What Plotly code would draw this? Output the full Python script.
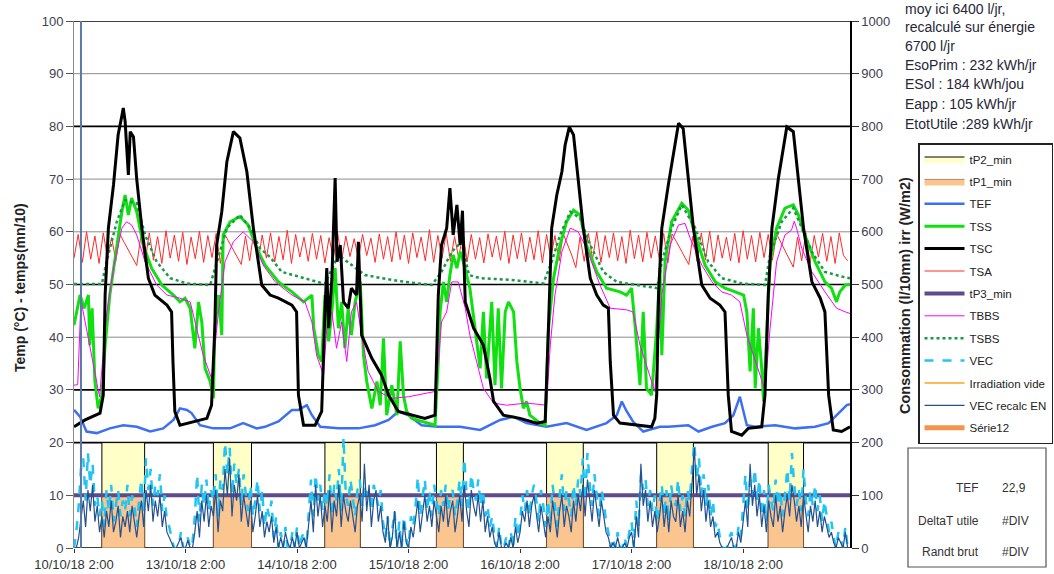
import plotly.graph_objects as go

# ---------------- data (hours since 10/10/18 2:00) ----------------
TICK_HOURS = [0, 24, 48, 72, 96, 120, 144]
TICK_LABELS = ["10/10/18 2:00", "13/10/18 2:00", "14/10/18 2:00", "15/10/18 2:00",
               "16/10/18 2:00", "17/10/18 2:00", "18/10/18 2:00"]

TSC_H = [0, 2.4, 5.6, 6.3, 6.7, 7.4, 8.5, 9.5, 10.3, 10.6, 11.0, 11.4, 11.7, 12.1, 12.8, 13.5, 14.6, 16, 17.4, 20, 21,
         21.3, 21.7, 22.8, 25.7, 28.6, 29.6, 30.3, 30.7, 31.8, 32.9, 34.3, 35.7, 37.2, 38.6, 40.4, 42.2, 44, 46.9, 47.9,
         48.3, 49.4, 51.9, 53.3, 54.0, 54.4, 54.8, 55.5, 56.2, 56.6, 57.3, 58.0, 59.0, 59.7, 60.8, 61.2, 61.9, 64.1, 66.2,
         67.7, 69.8, 72.7, 75.5, 77.7, 78.4, 79.1, 80.2, 80.9, 81.6, 82.4, 83.1, 83.6, 84.2, 86, 88.1, 89.5, 90.3, 92.4,
         96, 99.6, 101.4, 102.1, 102.8, 103.9, 105, 105.7, 106.6, 107.5, 108.5, 109.6, 111.1, 112.5, 113.9, 115, 115.4,
         116.1, 117.5, 121.8, 124.3, 125.0, 125.4, 125.8, 126.5, 127.9, 129, 130.1, 131.1, 132.2, 133.3, 135.1, 136.9,
         139, 140.1, 140.8, 141.5, 143.7, 145.1, 148, 148.7, 149.4, 150.2, 151.6, 152.7, 153.4, 154.8, 155.9, 157, 158.8,
         160.6, 161.6, 162.4, 163.4, 165.2, 167]
TSC_V = [23.0, 24.3, 25.6, 29, 48, 60.7, 68.9, 78.4, 82, 83.5, 81, 76, 70.8, 79, 78, 70, 60.7, 51.2, 48, 46.1, 44.8,
         35.4, 25.9, 23.3, 24, 24.6, 27.1, 41.7, 57.5, 63.8, 73.3, 79, 77.8, 71.4, 60.7, 49.9, 48, 47.4, 46.1, 44.8,
         29, 23.3, 23.3, 25.9, 44.8, 53.1, 41.7, 51.2, 70.2, 54.3, 57.5, 46.7, 45.5, 49.3, 48, 58.1, 40.4, 36, 32.8,
         29, 25.9, 25.2, 24.6, 25.2, 48, 57.5, 60.7, 68.3, 59.4, 65.1, 57.5, 64, 46.7, 41.7, 38.5, 32.2, 27.8, 25.2,
         24.6, 23.7, 24, 41.7, 60.7, 67, 71.4, 76.5, 79.9, 78.4, 70.2, 60.7, 51.2, 48, 46.1, 45.5, 35.4,
         25.2, 23.7, 23.3, 23.0, 24.6, 29, 48, 60.7, 68.9, 75.2, 80.6, 79.6, 70.2, 60.7, 49.9, 47.4,
         46.1, 44.8, 29, 22.1, 21.4, 22.7, 23.0, 29, 48, 60.7, 70.2, 76.5, 79.9, 79, 70.2, 60.7, 50.5,
         47.4, 44.8, 29, 22.4, 22.1, 23]

TSS_H = [0, 1.3, 2.2, 3.1, 3.4, 3.9, 4.5, 5.2, 6, 6.7, 7.7, 9.2, 10.3, 11, 11.7, 12.4, 13.5, 14.9, 16.7, 18.9, 21.4,
         22.8, 23.9, 25, 26, 26.8, 27.5, 28.2, 29.3, 30, 30.3, 31.1, 31.8, 32.1, 33.6, 35.7, 37.5, 39.3, 41.1, 44, 46.9,
         49.4, 51.2, 51.6, 52.6, 53.3, 54, 54.8, 55.5, 56.2, 56.9, 57.6, 58.3, 59, 59.7, 60.5, 61.6, 62.3, 63, 64.1,
         65.2, 65.9, 66.6, 67.3, 68.4, 69.5, 70.2, 70.9, 71.6, 72.7, 74.8, 77.7, 78.4, 78.8, 79.5, 80.2, 80.9, 81.6,
         82.4, 83.1, 83.8, 85.2, 86.3, 87.4, 88.1, 88.8, 89.9, 90.6, 91.3, 92.0, 92.8, 93.5, 94.6, 95.3, 96, 96.7,
         97.4, 98.1, 100.3, 101.4, 102.1, 103.2, 104.6, 106, 107.5, 108.9, 110.3, 112.5, 114.6, 117.5, 118.9, 120.0,
         120.8, 121.8, 122.5, 123.2, 124.3, 125.4, 126.1, 126.5, 127.2, 128.6, 130.8, 132.2, 133.7, 135.8, 138, 140.1,
         142.3, 144.1, 144.8, 145.5, 146.2, 146.6, 147.3, 148.0, 148.4, 149.1, 149.8, 151.2, 153, 154.8, 155.9, 157.3,
         159.5, 161.6, 163.0, 164.1, 164.8, 166, 167]
TSS_V = [42.3, 48, 45.5, 48, 38.5, 45.5, 31.6, 26.5, 29, 38.5, 48, 57.5, 63.8, 67, 63.2, 66.4, 63.8, 57.5, 53.1, 49.9, 48,
         46.7, 47.4, 45.5, 37.9, 46.7, 42.9, 34.1, 31.6, 28.4, 41.7, 48, 40.4, 59.4, 61.9, 62.9, 61.3, 56.9, 53.7, 50.5, 48.6,
         46.7, 48, 41.7, 36.6, 35.4, 48, 39.2, 44.8, 53.1, 41.7, 46.7, 37.9, 45.5, 40.4, 46.7, 50.5, 36.6, 31.6, 26.5,
         31.6, 27.1, 39.8, 25.2, 30.9, 25.2, 39.2, 29, 25.9, 24.6, 24, 23.3, 35.4, 44.8, 50.5, 46.7, 51.8, 55.6,
         53.1, 56.2, 54.3, 49.3, 41.7, 34.1, 44.8, 32.2, 46.7, 30.9, 45.5, 30.3, 44.8, 46.7, 44.8, 35.4, 30.3, 26.5,
         27.8, 25.2, 23.7, 23.3, 41.7, 51.2, 57.5, 61.9, 64.1, 63.2, 57.5, 52.4, 49.3, 48.6, 48, 49.3,
         41.7, 30.9, 44.8, 30.3, 29, 41.7, 53.1, 36.6, 54.3, 61.9, 65.4, 64.1, 59.4, 53.7, 50.5, 49.3,
         48.6, 48, 44.8, 33.5, 45.5, 30.3, 41.7, 34.1, 27.8, 41.7, 54.3, 60.7, 64.5, 65.1, 63.2, 59.4,
         54.3, 50.5, 49.3, 46.7, 48.6, 49.9, 50]

TSA_STEP = 0.9
TSA_V = [55.0, 59.5, 54.2, 60.0, 54.8, 59.2, 54.0, 59.8, 55.2, 58.9, 54.5, 59.5, 58.0, 56.5, 55.0, 53.6, 59.3, 54.3, 59.8, 54.6,
         59.1, 54.0, 60.2, 55.0, 59.4, 54.4, 59.9, 53.8, 59.0, 54.9, 60.1, 54.2, 59.3, 55.1, 59.7, 54.0, 59.6, 58.2, 56.8, 55.4,
         53.8, 59.2, 54.5, 60.0, 54.1, 59.4, 55.0, 59.8, 54.3, 59.1, 54.7, 60.3, 54.0, 59.5, 55.2, 59.0, 54.4, 59.7, 54.8, 59.3,
         54.1, 58.9, 55.0, 60.0, 54.6, 59.2, 55.3, 58.7, 54.9, 59.5, 55.5, 58.8, 54.2, 59.6, 54.8, 59.1, 54.3, 60.0, 54.7, 59.4,
         54.0, 59.8, 55.1, 59.0, 54.5, 60.4, 54.2, 59.3, 55.0, 59.7, 54.4, 59.1, 54.9, 60.0, 54.3, 59.5, 54.8, 58.9, 54.1, 59.6,
         55.2, 59.2, 54.6, 60.1, 54.0, 59.4, 54.9, 59.8, 54.3, 59.0, 54.7, 60.2, 54.1, 59.5, 55.0, 59.3, 54.5, 59.6, 57.6, 55.6,
         53.2, 59.0, 54.4, 59.7, 54.8, 60.0, 54.2, 59.3, 55.1, 59.8, 54.5, 59.1, 54.0, 60.3, 54.9, 59.4, 54.3, 59.9, 55.0, 59.2,
         54.6, 59.7, 54.1, 59.6, 58.2, 56.8, 55.3, 53.8, 59.2, 54.4, 59.8, 54.7, 60.1, 54.2, 59.4, 55.0, 59.0, 54.5, 59.7, 54.1,
         60.2, 54.8, 59.3, 54.3, 59.9, 55.1, 59.5, 54.6, 59.6, 58.0, 56.4, 54.8, 53.3, 59.0, 54.5, 59.8, 54.0, 59.3, 55.2, 59.7,
         54.4, 59.1, 54.0, 59.8, 55.5, 54.5]

TBBS_H = [0, 0.8, 1.5, 3.5, 5.5, 7, 8.5, 10.3, 11.3, 12.4, 13.5, 15.3, 17.8, 20, 22.8, 25, 26.4, 27.8, 29.6, 30.3, 31.1,
          32.5, 34.3, 36.4, 38.6, 40.7, 43.3, 46.9, 49.7, 51.2, 52.2, 53.7, 54.4, 55.5, 56.5, 57.6, 58.7, 59.7, 60.8,
          61.9, 63.3, 65.5, 68.4, 72, 75.5, 77.7, 78.4, 79.1, 80.2, 81.3, 82.7, 84.2, 85.2, 86.7, 88.1, 90.3, 93.1, 97.4,
          101.7, 102.5, 103.5, 105, 106.8, 108.5, 110.3, 113.2, 115.4, 118.9, 120.3, 121.8, 123.6, 125, 126.5, 128.3,
          130.1, 131.5, 132.6, 135.1, 137.3, 139.4, 141.5, 143.3, 144.8, 146.6, 148.7, 149.8, 151.2, 153, 154.4, 155.0,
          155.5, 156.6, 158.8, 161.6, 164.1, 166, 167]
TBBS_V = [30.9, 31, 47, 38, 28.7, 44.2, 53.1, 60.7, 61.9, 61.3, 59.4, 54.3, 49.9, 48, 47.4, 46.7, 41.7, 36.6, 32.2, 37.9, 44.8,
          54.3, 58.1, 60, 58.1, 53.7, 50.5, 48, 46.7, 42.9, 36.6, 32.8, 41.7, 44.8, 37.9, 42.9, 35.4, 44.8, 46.7,
          40.4, 33.5, 29.7, 28.4, 28.7, 29.4, 29.7, 35.4, 42.9, 44.8, 50.5, 50.5, 45.5, 40.4, 35.4, 30.3, 27.5, 27.1, 27.5,
          27.1, 38.5, 48, 56.2, 60.7, 60, 56.9, 49.9, 45.5, 45.2, 44.8, 38.5, 33.5, 29.7, 48, 57.5,
          61.3, 61.6, 58.8, 53.7, 50.5, 48.6, 48, 46.7, 40.4, 35.4, 30, 41.7, 54.3, 59.4, 60.3, 62,
          60.7, 56.9, 52.4, 48.6, 45.5, 44.8, 44.5]

TSBS_H = [0, 6, 7, 9.2, 11, 13.5, 15.3, 17.8, 20.7, 24.3, 29.3, 30.7, 32.9, 35.7, 37.9, 40, 42.2, 44.7, 48.3, 51.9, 54,
          56.9, 60.5, 62.6, 66.2, 71.2, 77, 79.1, 81.3, 83.4, 85, 87.4, 93.8, 101, 102.8, 104.6, 106.8, 108.9, 111.1,
          113.9, 116.8, 121, 125.5, 126.5, 128.6, 130.8, 133.7, 136.5, 139.4, 143.7, 148.7, 149.8, 152.3, 154.8, 156.6,
          158.8, 161.6, 165.2, 167]
TSBS_V = [50.1, 50.1, 54.3, 61.9, 66, 65.4, 59.4, 54.3, 51.2, 50.2, 49.9, 54.3, 60.7, 63.2, 60.7, 56.9, 55.2, 52.4, 51.5, 50.5, 50.1,
          55.6, 53.1, 51.8, 51.2, 50.5, 49.9, 52.4, 56.2, 58.1, 51.8, 51.2, 50.9, 50.2, 54.3, 59.4, 63.8, 62.6, 57.5,
          52.4, 50.5, 49.9, 49.3, 54.3, 60.7, 65.1, 60.7, 54.3, 51.2, 50.2, 49.9, 55.6, 61.9, 64.5, 60.7,
          56.2, 52.4, 51.5, 51.2]

TEF_H = [0, 1.3, 2.7, 4.9, 7.7, 10.6, 13.5, 16.4, 19.2, 21.4, 22.8, 24.3, 25.3, 27.1, 30, 33.6, 36.4, 39.3, 41.1, 44, 46.9,
         48.3, 50.1, 51.2, 53, 56.9, 61.2, 64.8, 67.7, 69.8, 72, 74.8, 78.4, 83.1, 87.4, 91.7, 94.6, 97.4, 101.7, 106,
         110.3, 114.6, 116.8, 117.9, 118.9, 120.3, 122.5, 126.1, 127.9, 132.2, 134.4, 137.3, 140.1, 141.9, 143.3, 144.1,
         144.8, 146.6, 150.9, 155.2, 159.5, 162.4, 164.1, 166.3, 167]
TEF_V = [26.2, 24.9, 22.1, 21.8, 22.7, 23.3, 23.0, 22.1, 22.7, 24.3, 26.5, 26.2, 25.6, 23.3, 22.7, 22.7, 23.7, 22.7, 23.0, 24, 26.2,
         26.2, 27.1, 25.2, 23.0, 22.7, 22.7, 23.3, 24.3, 25.9, 25.2, 23.3, 23.0, 23.0, 22.4, 24.3, 24.9, 23.7, 23, 23.7,
         22.4, 23.7, 25.2, 27.8, 26, 24, 22.1, 23, 23.0, 23.3, 22.1, 23.0, 23.7, 25.2, 28.7, 26,
         23.3, 23, 23.3, 22.7, 23, 23.7, 25.2, 27.1, 27.3]

TP3_LEVEL = 10          # tP3_min (mn/10)
TP2_LEVEL = 20          # tP2_min (mn/10)
TP1_LEVEL = 10          # tP1_min (mn/10)
PUMP_START = [6, 30, 54, 78, 101.7, 125.4, 149.4]
PUMP_END = [15.2, 38.2, 61.6, 83.8, 109.6, 133.3, 157]

# consumption, l/10mn, every half hour from 10/10/18 2:00 (right axis)
VEC_STEP = 0.5
VEC_V = [0, 30, 80, 150, 170, 90, 180, 120, 160, 80, 100, 60,
         90, 40, 110, 70, 120, 50, 80, 110, 60, 90, 70, 120,
         60, 100, 80, 40, 90, 130, 70, 170, 110, 150, 80, 120,
         100, 140, 70, 100, 50, 40, 20, 0, 0, 0, 30, 0,
         0, 20, 0, 10, 60, 140, 50, 120, 80, 130, 70, 110,
         90, 140, 60, 130, 110, 200, 140, 190, 100, 160, 120, 150,
         80, 140, 100, 70, 120, 60, 90, 130, 70, 110, 40, 80,
         60, 90, 20, 60, 0, 30, 0, 40, 0, 0, 30, 0,
         40, 0, 20, 30, 0, 60, 130, 60, 140, 90, 120, 70,
         110, 80, 140, 60, 120, 90, 150, 70, 210, 100, 80, 130,
         90, 60, 110, 130, 80, 120, 100, 110, 70, 120, 100, 80,
         110, 50, 20, 60, 0, 40, 70, 0, 50, 0, 60, 20,
         0, 60, 40, 80, 135, 60, 100, 130, 70, 110, 60, 120,
         90, 60, 110, 80, 120, 70, 100, 110, 60, 90, 130, 80,
         170, 100, 70, 140, 110, 90, 130, 80, 110, 60, 80, 40,
         60, 20, 0, 40, 0, 0, 20, 0, 30, 0, 60, 20,
         50, 100, 70, 110, 60, 100, 120, 90, 50, 110, 80, 40,
         90, 50, 120, 80, 40, 100, 140, 70, 110, 90, 60, 120,
         80, 130, 100, 170, 90, 180, 120, 80, 140, 100, 60, 110,
         90, 50, 30, 0, 20, 0, 30, 0, 0, 20, 0, 30,
         50, 0, 90, 40, 140, 110, 130, 80, 110, 70, 100, 50,
         90, 120, 60, 110, 50, 120, 90, 80, 130, 70, 100, 60,
         110, 90, 150, 200, 130, 170, 100, 140, 80, 120, 60, 90,
         40, 50, 20, 0, 0, 0, 20, 30, 0, 0, 40, 20,
         80, 140, 70, 130, 100, 150, 90, 130, 60, 110, 50, 120,
         90, 70, 130, 80, 110, 60, 100, 150, 90, 180, 120, 80,
         110, 70, 150, 90, 60, 110, 80, 120, 70, 100, 50, 90,
         60, 30, 50, 20, 0, 30, 20, 0, 40, 0]
VECR_V = [0, 0, 20, 60, 90, 40, 110, 70, 120, 50, 80, 30,
          60, 20, 70, 40, 90, 30, 50, 80, 20, 60, 40, 70,
          30, 80, 50, 20, 60, 90, 40, 110, 70, 120, 50, 90,
          60, 100, 40, 70, 30, 20, 10, 0, 0, 10, 20, 0,
          0, 15, 0, 0, 30, 70, 20, 90, 50, 100, 40, 80,
          60, 110, 30, 90, 70, 150, 100, 170, 60, 120, 90, 140,
          50, 100, 70, 40, 90, 30, 60, 100, 40, 70, 20, 50,
          30, 60, 10, 40, 0, 20, 0, 30, 10, 0, 20, 0,
          30, 0, 10, 20, 0, 40, 90, 30, 120, 60, 100, 40,
          80, 50, 110, 30, 90, 60, 120, 40, 100, 70, 50, 90,
          60, 30, 80, 100, 50, 160, 70, 120, 40, 90, 110, 50,
          80, 30, 10, 60, 0, 20, 70, 0, 30, 0, 50, 10,
          0, 40, 20, 60, 90, 30, 70, 100, 50, 80, 40, 90,
          60, 30, 80, 50, 100, 40, 70, 90, 30, 60, 100, 50,
          120, 70, 40, 110, 80, 60, 100, 50, 90, 30, 60, 20,
          40, 10, 0, 30, 0, 0, 10, 0, 20, 0, 40, 10,
          30, 70, 50, 90, 40, 80, 100, 60, 30, 80, 50, 20,
          60, 30, 90, 50, 20, 70, 100, 40, 80, 60, 30, 90,
          50, 100, 70, 120, 60, 130, 90, 50, 110, 70, 40, 90,
          60, 30, 20, 0, 10, 0, 20, 0, 0, 10, 0, 20,
          30, 0, 60, 20, 160, 80, 110, 50, 90, 40, 70, 30,
          60, 100, 40, 80, 30, 90, 60, 50, 100, 40, 70, 30,
          90, 60, 120, 190, 100, 140, 70, 110, 50, 90, 40, 60,
          20, 30, 10, 0, 0, 0, 10, 20, 0, 0, 30, 10,
          50, 90, 40, 160, 80, 120, 60, 100, 40, 80, 30, 90,
          60, 40, 100, 50, 80, 30, 70, 100, 60, 120, 90, 50,
          80, 40, 100, 60, 30, 80, 50, 90, 40, 70, 30, 60,
          40, 20, 30, 10, 0, 20, 10, 0, 30, 0]
SPIKE_H = [1.5, 1.5]
SPIKE_V = [0, 1000]

INFO_LINES = ["moy ici 6400 l/jr,", "recalculé sur énergie", "6700 l/jr", "EsoPrim : 232 kWh/jr",
              "ESol : 184 kWh/jou", "Eapp : 105 kWh/jr", "EtotUtile :289 kWh/jr"]
BOX_ROWS = [("TEF", "22,9"), ("DeltaT utile", "#DIV"), ("Randt brut", "#DIV")]
BLACK_LINES = [100, 80, 50, 30, 20, 0]
GRAY_LINES = [90, 70, 60, 40, 10]

# ---------------- layout geometry (pixels) ----------------
W, H = 1054, 574
L, R, T, B = 74, 204, 21, 26
PW, PH = W - L - R, H - T - B


def px_x(px):
    return (px - L) / PW


def px_y(py):
    return (H - B - py) / PH


FONT = "Liberation Sans, Arial, sans-serif"
X_MAX = 167


def blocks(starts, ends, level):
    xs, ys = [], []
    for s, e in zip(starts, ends):
        xs += [s, s, e, e, s, None]
        ys += [0, level, level, 0, 0, None]
    return xs, ys


fig = go.Figure()


def add(tr, rank):
    tr.legendrank = rank
    tr.legendgroup = "g%d" % rank
    fig.add_trace(tr)


x2, y2 = blocks(PUMP_START, PUMP_END, TP2_LEVEL)
x1, y1 = blocks(PUMP_START, PUMP_END, TP1_LEVEL)
add(go.Scatter(x=x2, y=y2, name="tP2_min", fill="toself", fillcolor="#ffffc8",
               line=dict(color="#000000", width=1), mode="lines"), 1)
add(go.Scatter(x=x1, y=y1, name="tP1_min", fill="toself", fillcolor="#fac58f",
               line=dict(color="#6b4a2a", width=0.6), mode="lines"), 2)

vec_h = [i * VEC_STEP for i in range(len(VEC_V))]
vecr_h = [i * VEC_STEP for i in range(len(VECR_V))]
add(go.Scatter(x=vec_h, y=VEC_V, name="VEC", yaxis="y2", mode="lines",
               line=dict(color="#22c4f4", width=2.5, dash="dash")), 10)
add(go.Scatter(x=vecr_h, y=VECR_V, name="VEC recalc EN", yaxis="y2", mode="lines",
               line=dict(color="#25508f", width=1.2)), 12)
fig.add_trace(go.Scatter(x=SPIKE_H, y=SPIKE_V, yaxis="y2", mode="lines", showlegend=False,
                         line=dict(color="#5a78a8", width=2)))

add(go.Scatter(x=[0, X_MAX], y=[TP3_LEVEL, TP3_LEVEL], name="tP3_min", mode="lines",
               line=dict(color="#5e4b8b", width=4)), 7)
add(go.Scatter(x=TEF_H, y=TEF_V, name="TEF", mode="lines",
               line=dict(color="#3d6ff2", width=2.5)), 3)
tsa_h = [i * TSA_STEP for i in range(len(TSA_V))]
add(go.Scatter(x=tsa_h, y=TSA_V, name="TSA", mode="lines",
               line=dict(color="#ff2a2a", width=1)), 6)
add(go.Scatter(x=TSS_H, y=TSS_V, name="TSS", mode="lines",
               line=dict(color="#10e010", width=3)), 4)
add(go.Scatter(x=TBBS_H, y=TBBS_V, name="TBBS", mode="lines",
               line=dict(color="#ff00ff", width=1)), 8)
add(go.Scatter(x=TSBS_H, y=TSBS_V, name="TSBS", mode="lines",
               line=dict(color="#169a45", width=2.5, dash="dot")), 9)
add(go.Scatter(x=TSC_H, y=TSC_V, name="TSC", mode="lines",
               line=dict(color="#000000", width=3)), 5)
add(go.Scatter(x=[None], y=[None], name="Irradiation vide", mode="lines",
               line=dict(color="#ffa31a", width=1.5)), 11)
add(go.Scatter(x=[None], y=[None], name="Série12", mode="lines",
               line=dict(color="#f7924a", width=5)), 13)

shapes = []
for v in GRAY_LINES:
    shapes.append(dict(type="line", xref="paper", yref="y", x0=0, x1=1, y0=v, y1=v,
                       line=dict(color="#8c8c8c", width=1), layer="below"))
for v in BLACK_LINES:
    shapes.append(dict(type="line", xref="paper", yref="y", x0=0, x1=1, y0=v, y1=v,
                       line=dict(color="#000000", width=1.6), layer="below"))
shapes.append(dict(type="rect", xref="paper", yref="paper", x0=px_x(908), x1=px_x(1046),
                   y0=px_y(567), y1=px_y(448), line=dict(color="#555555", width=1.2)))

annotations = []
info_y = [9, 27, 46, 65, 84, 104, 124]
for txt, py in zip(INFO_LINES, info_y):
    annotations.append(dict(text=txt, xref="paper", yref="paper", x=px_x(903), y=px_y(py),
                            xanchor="left", yanchor="middle", showarrow=False,
                            font=dict(family=FONT, size=14, color="#262636")))
box_y = [488, 521, 552]
for (lab, val), py in zip(BOX_ROWS, box_y):
    annotations.append(dict(text=lab, xref="paper", yref="paper", x=px_x(981), y=px_y(py),
                            xanchor="right", yanchor="middle", showarrow=False,
                            font=dict(family=FONT, size=12, color="#333333")))
    annotations.append(dict(text=val, xref="paper", yref="paper", x=px_x(1000), y=px_y(py),
                            xanchor="left", yanchor="middle", showarrow=False,
                            font=dict(family=FONT, size=12, color="#333333")))
annotations.append(dict(text="<b>Temp (°C) - temps(mn/10)</b>", xref="paper", yref="paper",
                        x=px_x(20), y=px_y(288), textangle=-90, showarrow=False,
                        xanchor="center", yanchor="middle",
                        font=dict(family=FONT, size=14, color="#222222")))
annotations.append(dict(text="<b>Consommation (l/10mn) irr (W/m2)</b>", xref="paper", yref="paper",
                        x=px_x(905), y=px_y(296), textangle=-90, showarrow=False,
                        xanchor="center", yanchor="middle",
                        font=dict(family=FONT, size=14.5, color="#222222")))

fig.update_layout(
    width=W, height=H,
    margin=dict(l=L, r=R, t=T, b=B, autoexpand=False),
    paper_bgcolor="white", plot_bgcolor="white",
    font=dict(family=FONT, size=13, color="#333333"),
    showlegend=True,
    legend=dict(x=px_x(918), y=px_y(143), xanchor="left", yanchor="top",
                bgcolor="white", bordercolor="#222222", borderwidth=1.5,
                font=dict(family=FONT, size=11.5, color="#222222"),
                tracegroupgap=3.4, itemwidth=40),
    xaxis=dict(range=[0, X_MAX], tickvals=TICK_HOURS, ticktext=TICK_LABELS,
               ticks="outside", ticklen=4, tickcolor="#333", showgrid=False, zeroline=False,
               showline=False, tickfont=dict(size=13, color="#333333")),
    yaxis=dict(range=[0, 100], dtick=10, ticks="outside", ticklen=7, tickcolor="#555",
               showgrid=False, zeroline=False,
               showline=True, linecolor="#8a8a8a", linewidth=1,
               tickfont=dict(size=13, color="#404050")),
    yaxis2=dict(range=[0, 1000], dtick=100, overlaying="y", side="right", ticks="outside",
                ticklen=7, tickcolor="#333", showgrid=False, zeroline=False,
                showline=True, linecolor="#000000", linewidth=1.5,
                tickfont=dict(size=13, color="#404050")),
    shapes=shapes, annotations=annotations,
)

fig.write_html("out.html", config={"displayModeBar": False},
               post_script="document.body.style.margin='0px';document.body.style.overflow='hidden';")
